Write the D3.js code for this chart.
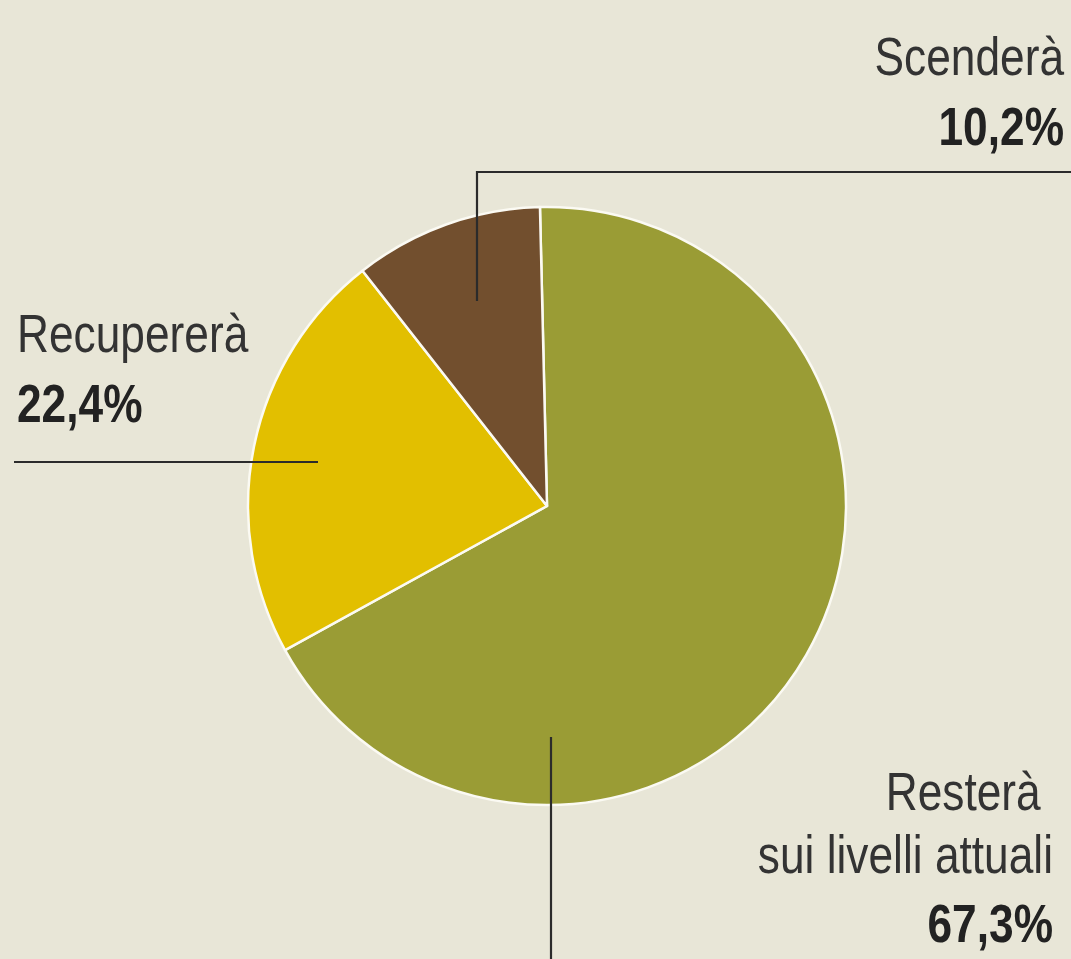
<!DOCTYPE html>
<html>
<head>
<meta charset="utf-8">
<script src="https://cdn.jsdelivr.net/npm/d3@7"></script>
<style>
  body { margin: 0; background: #e8e6d7; }
  svg text { font-family: "Liberation Sans", Arial, sans-serif; white-space: pre; }
</style>
</head>
<body>
<div id="chart"></div>
<script>
// answers: share of respondents (%)
var categories = ["Resterà sui livelli attuali", "Recupererà", "Scenderà"];
var values = [67.3, 22.4, 10.2];
var valueLabels = ["67,3%", "22,4%", "10,2%"];
var colors = ["#9a9c35", "#e2bf00", "#724f2e"];

var svgWidth = 1071,
    svgHeight = 959;

var cx = 547, cy = 506, radius = 299;

var svg = d3.select("#chart")
    .append("svg")
    .attr("width", svgWidth)
    .attr("height", svgHeight);

svg.append("rect")
    .attr("width", svgWidth)
    .attr("height", svgHeight)
    .attr("fill", "#e8e6d7");

var pieGroup = svg.append("g")
    .attr("transform", "translate(" + cx + "," + cy + ")");

var pie = d3.pie()
    .sort(null)
    .startAngle(-1.35 * Math.PI / 180)
    .endAngle(2 * Math.PI - 1.35 * Math.PI / 180);

var arc = d3.arc()
    .innerRadius(0)
    .outerRadius(radius);

var arcs = pie(values);

pieGroup.selectAll("path")
    .data(arcs)
    .enter()
    .append("path")
    .attr("d", arc)
    .attr("fill", (d, i) => colors[i])
    .attr("stroke", "#fbfaf3")
    .attr("stroke-width", 2.5)
    .attr("stroke-linejoin", "round");

var lineColor = "#2b2b2b";

// leader lines
var leaders = [
    "M551,737V" + svgHeight,     // Resterà: down to the bottom
    "M14,462H318",               // Recupererà: from the left
    "M477,301V172H" + svgWidth   // Scenderà: up, then right
];

svg.selectAll(".leader")
    .data(leaders)
    .enter()
    .append("path")
    .attr("class", "leader")
    .attr("d", d => d)
    .attr("fill", "none")
    .attr("stroke", lineColor)
    .attr("stroke-width", 2.2);

// labels (condensed type, so squeeze horizontally)
var labels = [
    { lines: ["Resterà ", "sui livelli attuali"], x: 1053, y: 810, anchor: "end" },
    { lines: ["Recupererà"], x: 17, y: 352, anchor: "start" },
    { lines: ["Scenderà"], x: 1064, y: 75, anchor: "end" }
];

labels.forEach(function(l, k) {
    var t = svg.append("text")
        .attr("transform", "translate(" + l.x + "," + l.y + ") scale(0.82,1)")
        .attr("text-anchor", l.anchor)
        .attr("font-size", 54)
        .attr("fill", "#333");
    l.lines.forEach(function(s, i) {
        t.append("tspan")
            .attr("x", 0)
            .attr("y", i * 63)
            .text(s);
    });
    t.append("tspan")
        .attr("x", 0)
        .attr("y", l.lines.length * 63 + (l.lines.length > 1 ? 6 : 7))
        .attr("font-weight", "bold")
        .attr("fill", "#222")
        .text(valueLabels[k]);
});
</script>
</body>
</html>
